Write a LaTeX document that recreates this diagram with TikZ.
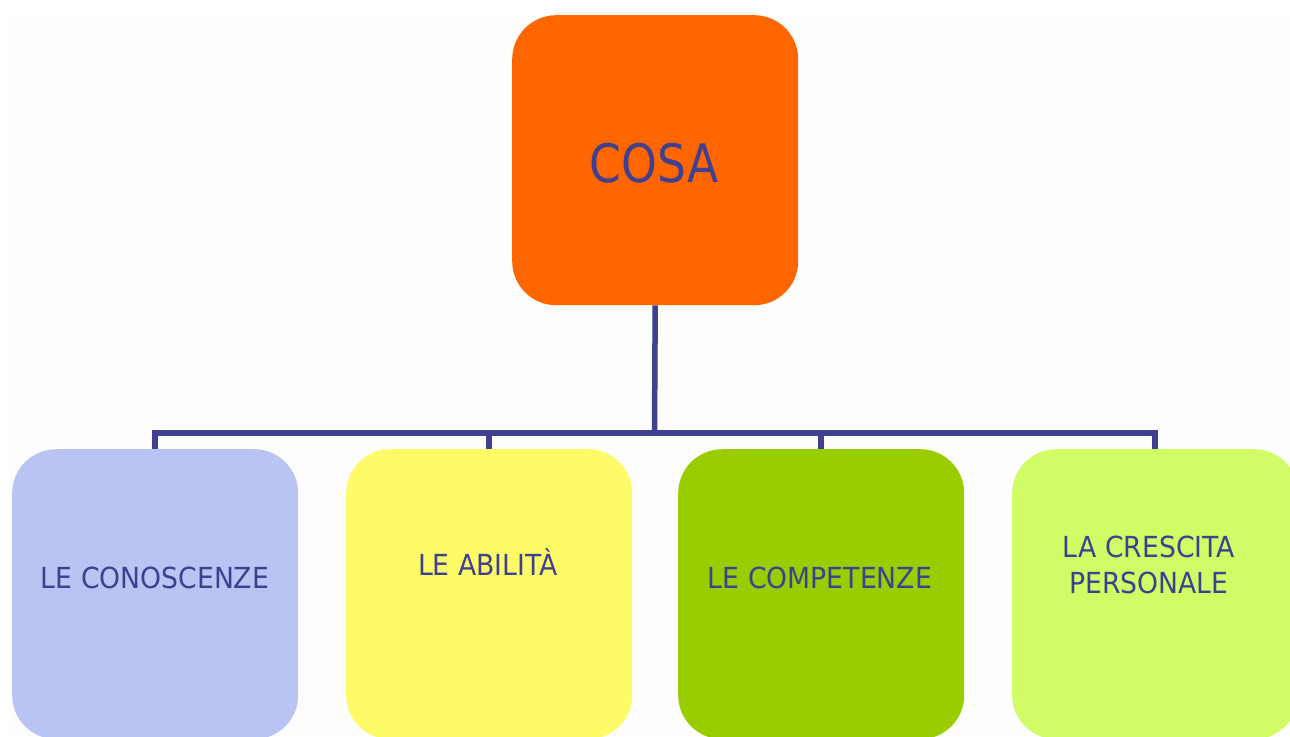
\documentclass[tikz,border=0pt]{standalone}
\usepackage{fontspec}
\newfontfamily\boxfont[FakeStretch=0.92]{DejaVu Sans}
\newfontfamily\topfont[FakeStretch=0.86]{DejaVu Sans}
\definecolor{ink}{RGB}{64,64,144}
\definecolor{cOrange}{RGB}{255,102,0}
\definecolor{cLav}{RGB}{186,196,242}
\definecolor{cYel}{RGB}{253,252,104}
\definecolor{cGreen}{RGB}{154,205,0}
\definecolor{cLime}{RGB}{210,252,102}
\begin{document}
\begin{tikzpicture}[x=1pt,y=-1pt,
  box/.style={rounded corners=44pt, minimum width=286pt, minimum height=290pt, inner sep=0pt, anchor=north west, draw=none},
  lbl/.style={text=ink, font=\boxfont\fontsize{29}{36}\selectfont, align=center, inner sep=0pt, anchor=base},
  wire/.style={draw=ink, line width=5.5pt}]
\useasboundingbox (0,0) rectangle (1290,736);
\fill[white] (0,0) rectangle (1290,736);
\fill[black!0.8] (10,15) rectangle (1290,736);
\node[box, fill=cOrange] (top) at (512,15) {};
\node[box, fill=cLav] (b1) at (12,449) {};
\node[box, fill=cYel] (b2) at (346,449) {};
\node[box, fill=cGreen] (b3) at (678,449) {};
\node[box, fill=cLime] (b4) at (1012,449) {};
\node[text=ink, font=\topfont\fontsize{53}{60}\selectfont, inner sep=0pt, anchor=base] (tcosa) at (654,182) {COSA};
\node[lbl] (t1) at (155,588) {LE CONOSCENZE};
\node[lbl] (t2) at (488,575) {LE ABILITÀ};
\node[lbl] (t3) at (820,588) {LE COMPETENZE};
\node[lbl] (t4) at (1149,593) {LA CRESCITA\\PERSONALE};
\coordinate (bus) at (654.5,433);
\draw[wire] (top.south) -- (bus);
\draw[wire] (bus) -| (b1.north);
\draw[wire] (bus) -| (b2.north);
\draw[wire] (bus) -| (b3.north);
\draw[wire] (bus) -| (b4.north);
\end{tikzpicture}
\end{document}
